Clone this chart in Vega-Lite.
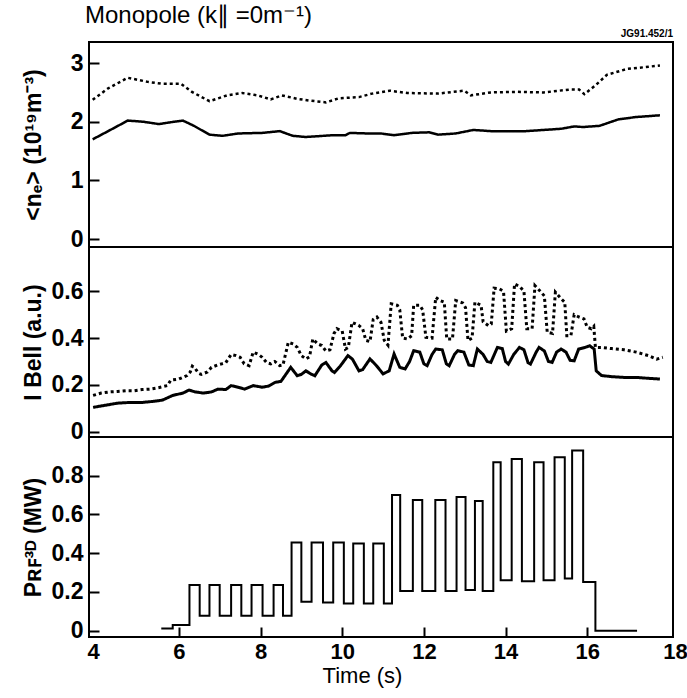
{
  "$schema": "https://vega.github.io/schema/vega-lite/v6.json",
  "padding": {"left": 20, "top": 4, "right": 12, "bottom": 4},
  "spacing": 0,
  "bounds": "flush",
  "title": {"text": "Monopole (k∥ =0m⁻¹)", "anchor": "start", "fontSize": 24, "fontWeight": "normal", "font": "Liberation Sans", "color": "black", "offset": 0, "dx": 64},
  "config": {
    "font": "Liberation Sans",
    "view": {"stroke": "black", "strokeWidth": 2},
    "axis": {"grid": false, "domain": false, "tickColor": "black", "tickWidth": 2, "tickSize": -10, "labelColor": "black", "labelFontSize": 23, "labelFontWeight": "bold", "titleColor": "black", "titleFontSize": 23, "titleFontWeight": "bold", "labelFont": "Liberation Sans", "titleFont": "Liberation Sans"},
    "line": {"color": "black"}
  },
  "datasets": {
    "dens": [
      {"t": 3.89, "v": 2.375, "s": "u"}, {"t": 4.27, "v": 2.57, "s": "u"}, {"t": 4.75, "v": 2.75, "s": "u"}, {"t": 5.24, "v": 2.68, "s": "u"}, {"t": 5.56, "v": 2.65, "s": "u"}, {"t": 6.05, "v": 2.65, "s": "u"}, {"t": 6.32, "v": 2.51, "s": "u"}, {"t": 6.75, "v": 2.35, "s": "u"}, {"t": 7.18, "v": 2.45, "s": "u"}, {"t": 7.55, "v": 2.49, "s": "u"}, {"t": 7.93, "v": 2.45, "s": "u"}, {"t": 8.25, "v": 2.38, "s": "u"}, {"t": 8.52, "v": 2.45, "s": "u"}, {"t": 8.9, "v": 2.39, "s": "u"}, {"t": 9.22, "v": 2.36, "s": "u"}, {"t": 9.6, "v": 2.33, "s": "u"}, {"t": 9.92, "v": 2.4, "s": "u"}, {"t": 10.41, "v": 2.42, "s": "u"}, {"t": 10.73, "v": 2.48, "s": "u"}, {"t": 11.16, "v": 2.53, "s": "u"}, {"t": 11.59, "v": 2.49, "s": "u"}, {"t": 12.35, "v": 2.48, "s": "u"}, {"t": 12.99, "v": 2.53, "s": "u"}, {"t": 13.15, "v": 2.45, "s": "u"}, {"t": 13.64, "v": 2.5, "s": "u"}, {"t": 14.28, "v": 2.51, "s": "u"}, {"t": 14.93, "v": 2.5, "s": "u"}, {"t": 15.58, "v": 2.55, "s": "u"}, {"t": 15.8, "v": 2.55, "s": "u"}, {"t": 15.93, "v": 2.47, "s": "u"}, {"t": 16.2, "v": 2.62, "s": "u"}, {"t": 16.48, "v": 2.8, "s": "u"}, {"t": 16.97, "v": 2.9, "s": "u"}, {"t": 17.4, "v": 2.93, "s": "u"}, {"t": 17.78, "v": 2.96, "s": "u"},
      {"t": 3.89, "v": 1.7, "s": "l"}, {"t": 4.27, "v": 1.84, "s": "l"}, {"t": 4.75, "v": 2.02, "s": "l"}, {"t": 5.13, "v": 2.0, "s": "l"}, {"t": 5.51, "v": 1.96, "s": "l"}, {"t": 5.88, "v": 2.0, "s": "l"}, {"t": 6.1, "v": 2.02, "s": "l"}, {"t": 6.37, "v": 1.93, "s": "l"}, {"t": 6.75, "v": 1.78, "s": "l"}, {"t": 7.07, "v": 1.76, "s": "l"}, {"t": 7.45, "v": 1.8, "s": "l"}, {"t": 8.04, "v": 1.81, "s": "l"}, {"t": 8.47, "v": 1.84, "s": "l"}, {"t": 8.79, "v": 1.76, "s": "l"}, {"t": 9.11, "v": 1.74, "s": "l"}, {"t": 9.76, "v": 1.77, "s": "l"}, {"t": 10.08, "v": 1.77, "s": "l"}, {"t": 10.19, "v": 1.81, "s": "l"}, {"t": 10.62, "v": 1.8, "s": "l"}, {"t": 10.95, "v": 1.8, "s": "l"}, {"t": 11.27, "v": 1.77, "s": "l"}, {"t": 11.7, "v": 1.81, "s": "l"}, {"t": 12.13, "v": 1.82, "s": "l"}, {"t": 12.35, "v": 1.78, "s": "l"}, {"t": 12.78, "v": 1.8, "s": "l"}, {"t": 13.21, "v": 1.86, "s": "l"}, {"t": 13.64, "v": 1.84, "s": "l"}, {"t": 14.5, "v": 1.84, "s": "l"}, {"t": 14.93, "v": 1.86, "s": "l"}, {"t": 15.36, "v": 1.88, "s": "l"}, {"t": 15.68, "v": 1.92, "s": "l"}, {"t": 15.9, "v": 1.91, "s": "l"}, {"t": 16.3, "v": 1.93, "s": "l"}, {"t": 16.76, "v": 2.04, "s": "l"}, {"t": 17.19, "v": 2.08, "s": "l"}, {"t": 17.78, "v": 2.11, "s": "l"}
    ],
    "bell": [
      {"t": 3.9, "v": 0.155, "s": "u"}, {"t": 4.1, "v": 0.165, "s": "u"}, {"t": 4.3, "v": 0.17, "s": "u"}, {"t": 4.5, "v": 0.172, "s": "u"}, {"t": 4.7, "v": 0.175, "s": "u"}, {"t": 4.9, "v": 0.175, "s": "u"}, {"t": 5.1, "v": 0.18, "s": "u"}, {"t": 5.3, "v": 0.182, "s": "u"}, {"t": 5.5, "v": 0.188, "s": "u"}, {"t": 5.72, "v": 0.197, "s": "u"}, {"t": 5.8, "v": 0.22, "s": "u"}, {"t": 6.0, "v": 0.225, "s": "u"}, {"t": 6.2, "v": 0.24, "s": "u"}, {"t": 6.28, "v": 0.255, "s": "u"}, {"t": 6.33, "v": 0.28, "s": "u"}, {"t": 6.4, "v": 0.27, "s": "u"}, {"t": 6.48, "v": 0.25, "s": "u"}, {"t": 6.55, "v": 0.245, "s": "u"}, {"t": 6.7, "v": 0.255, "s": "u"}, {"t": 6.8, "v": 0.275, "s": "u"}, {"t": 6.95, "v": 0.285, "s": "u"}, {"t": 7.05, "v": 0.29, "s": "u"}, {"t": 7.15, "v": 0.295, "s": "u"}, {"t": 7.28, "v": 0.33, "s": "u"}, {"t": 7.4, "v": 0.325, "s": "u"}, {"t": 7.5, "v": 0.318, "s": "u"}, {"t": 7.6, "v": 0.29, "s": "u"}, {"t": 7.72, "v": 0.282, "s": "u"}, {"t": 7.82, "v": 0.34, "s": "u"}, {"t": 7.95, "v": 0.33, "s": "u"}, {"t": 8.04, "v": 0.318, "s": "u"}, {"t": 8.15, "v": 0.295, "s": "u"}, {"t": 8.25, "v": 0.29, "s": "u"}, {"t": 8.35, "v": 0.3, "s": "u"}, {"t": 8.47, "v": 0.282, "s": "u"}, {"t": 8.55, "v": 0.285, "s": "u"}, {"t": 8.68, "v": 0.382, "s": "u"}, {"t": 8.8, "v": 0.375, "s": "u"}, {"t": 8.9, "v": 0.36, "s": "u"}, {"t": 9.0, "v": 0.325, "s": "u"}, {"t": 9.11, "v": 0.311, "s": "u"}, {"t": 9.2, "v": 0.32, "s": "u"}, {"t": 9.28, "v": 0.396, "s": "u"}, {"t": 9.4, "v": 0.375, "s": "u"}, {"t": 9.5, "v": 0.368, "s": "u"}, {"t": 9.6, "v": 0.345, "s": "u"}, {"t": 9.7, "v": 0.35, "s": "u"}, {"t": 9.8, "v": 0.42, "s": "u"}, {"t": 9.87, "v": 0.44, "s": "u"}, {"t": 10.0, "v": 0.43, "s": "u"}, {"t": 10.08, "v": 0.353, "s": "u"}, {"t": 10.15, "v": 0.36, "s": "u"}, {"t": 10.24, "v": 0.467, "s": "u"}, {"t": 10.4, "v": 0.455, "s": "u"}, {"t": 10.5, "v": 0.44, "s": "u"}, {"t": 10.58, "v": 0.39, "s": "u"}, {"t": 10.68, "v": 0.385, "s": "u"}, {"t": 10.76, "v": 0.48, "s": "u"}, {"t": 10.85, "v": 0.49, "s": "u"}, {"t": 10.95, "v": 0.467, "s": "u"}, {"t": 11.03, "v": 0.39, "s": "u"}, {"t": 11.12, "v": 0.37, "s": "u"}, {"t": 11.2, "v": 0.546, "s": "u"}, {"t": 11.35, "v": 0.54, "s": "u"}, {"t": 11.41, "v": 0.52, "s": "u"}, {"t": 11.48, "v": 0.4, "s": "u"}, {"t": 11.6, "v": 0.396, "s": "u"}, {"t": 11.7, "v": 0.41, "s": "u"}, {"t": 11.75, "v": 0.54, "s": "u"}, {"t": 11.9, "v": 0.54, "s": "u"}, {"t": 11.97, "v": 0.52, "s": "u"}, {"t": 12.05, "v": 0.403, "s": "u"}, {"t": 12.2, "v": 0.4, "s": "u"}, {"t": 12.29, "v": 0.574, "s": "u"}, {"t": 12.4, "v": 0.56, "s": "u"}, {"t": 12.5, "v": 0.553, "s": "u"}, {"t": 12.56, "v": 0.396, "s": "u"}, {"t": 12.7, "v": 0.396, "s": "u"}, {"t": 12.78, "v": 0.56, "s": "u"}, {"t": 12.95, "v": 0.55, "s": "u"}, {"t": 13.02, "v": 0.53, "s": "u"}, {"t": 13.08, "v": 0.39, "s": "u"}, {"t": 13.18, "v": 0.4, "s": "u"}, {"t": 13.25, "v": 0.553, "s": "u"}, {"t": 13.4, "v": 0.54, "s": "u"}, {"t": 13.45, "v": 0.47, "s": "u"}, {"t": 13.58, "v": 0.453, "s": "u"}, {"t": 13.65, "v": 0.46, "s": "u"}, {"t": 13.72, "v": 0.613, "s": "u"}, {"t": 13.85, "v": 0.61, "s": "u"}, {"t": 13.95, "v": 0.6, "s": "u"}, {"t": 14.02, "v": 0.43, "s": "u"}, {"t": 14.15, "v": 0.44, "s": "u"}, {"t": 14.22, "v": 0.631, "s": "u"}, {"t": 14.35, "v": 0.62, "s": "u"}, {"t": 14.45, "v": 0.6, "s": "u"}, {"t": 14.52, "v": 0.44, "s": "u"}, {"t": 14.65, "v": 0.44, "s": "u"}, {"t": 14.72, "v": 0.624, "s": "u"}, {"t": 14.85, "v": 0.6, "s": "u"}, {"t": 14.95, "v": 0.58, "s": "u"}, {"t": 15.02, "v": 0.425, "s": "u"}, {"t": 15.15, "v": 0.42, "s": "u"}, {"t": 15.22, "v": 0.596, "s": "u"}, {"t": 15.35, "v": 0.57, "s": "u"}, {"t": 15.45, "v": 0.553, "s": "u"}, {"t": 15.5, "v": 0.41, "s": "u"}, {"t": 15.6, "v": 0.41, "s": "u"}, {"t": 15.68, "v": 0.5, "s": "u"}, {"t": 15.8, "v": 0.49, "s": "u"}, {"t": 15.92, "v": 0.482, "s": "u"}, {"t": 16.0, "v": 0.446, "s": "u"}, {"t": 16.1, "v": 0.44, "s": "u"}, {"t": 16.16, "v": 0.45, "s": "u"}, {"t": 16.2, "v": 0.36, "s": "u"}, {"t": 16.35, "v": 0.36, "s": "u"}, {"t": 16.6, "v": 0.355, "s": "u"}, {"t": 16.9, "v": 0.35, "s": "u"}, {"t": 17.2, "v": 0.34, "s": "u"}, {"t": 17.5, "v": 0.325, "s": "u"}, {"t": 17.7, "v": 0.31, "s": "u"}, {"t": 17.85, "v": 0.318, "s": "u"},
      {"t": 3.9, "v": 0.104, "s": "l"}, {"t": 4.2, "v": 0.113, "s": "l"}, {"t": 4.5, "v": 0.122, "s": "l"}, {"t": 4.8, "v": 0.125, "s": "l"}, {"t": 5.1, "v": 0.125, "s": "l"}, {"t": 5.4, "v": 0.13, "s": "l"}, {"t": 5.6, "v": 0.135, "s": "l"}, {"t": 5.85, "v": 0.155, "s": "l"}, {"t": 6.1, "v": 0.165, "s": "l"}, {"t": 6.25, "v": 0.178, "s": "l"}, {"t": 6.4, "v": 0.17, "s": "l"}, {"t": 6.6, "v": 0.165, "s": "l"}, {"t": 6.8, "v": 0.17, "s": "l"}, {"t": 6.96, "v": 0.182, "s": "l"}, {"t": 7.15, "v": 0.18, "s": "l"}, {"t": 7.28, "v": 0.197, "s": "l"}, {"t": 7.45, "v": 0.19, "s": "l"}, {"t": 7.61, "v": 0.182, "s": "l"}, {"t": 7.82, "v": 0.197, "s": "l"}, {"t": 8.04, "v": 0.19, "s": "l"}, {"t": 8.2, "v": 0.195, "s": "l"}, {"t": 8.36, "v": 0.211, "s": "l"}, {"t": 8.5, "v": 0.215, "s": "l"}, {"t": 8.6, "v": 0.24, "s": "l"}, {"t": 8.74, "v": 0.275, "s": "l"}, {"t": 8.9, "v": 0.239, "s": "l"}, {"t": 9.0, "v": 0.245, "s": "l"}, {"t": 9.11, "v": 0.26, "s": "l"}, {"t": 9.25, "v": 0.245, "s": "l"}, {"t": 9.33, "v": 0.239, "s": "l"}, {"t": 9.5, "v": 0.285, "s": "l"}, {"t": 9.6, "v": 0.296, "s": "l"}, {"t": 9.75, "v": 0.26, "s": "l"}, {"t": 9.81, "v": 0.253, "s": "l"}, {"t": 9.95, "v": 0.28, "s": "l"}, {"t": 10.14, "v": 0.325, "s": "l"}, {"t": 10.25, "v": 0.31, "s": "l"}, {"t": 10.41, "v": 0.26, "s": "l"}, {"t": 10.5, "v": 0.265, "s": "l"}, {"t": 10.68, "v": 0.311, "s": "l"}, {"t": 10.84, "v": 0.282, "s": "l"}, {"t": 11.0, "v": 0.247, "s": "l"}, {"t": 11.15, "v": 0.26, "s": "l"}, {"t": 11.27, "v": 0.332, "s": "l"}, {"t": 11.41, "v": 0.275, "s": "l"}, {"t": 11.54, "v": 0.268, "s": "l"}, {"t": 11.65, "v": 0.3, "s": "l"}, {"t": 11.75, "v": 0.346, "s": "l"}, {"t": 11.9, "v": 0.34, "s": "l"}, {"t": 12.0, "v": 0.29, "s": "l"}, {"t": 12.08, "v": 0.282, "s": "l"}, {"t": 12.2, "v": 0.33, "s": "l"}, {"t": 12.29, "v": 0.353, "s": "l"}, {"t": 12.45, "v": 0.35, "s": "l"}, {"t": 12.55, "v": 0.29, "s": "l"}, {"t": 12.62, "v": 0.282, "s": "l"}, {"t": 12.75, "v": 0.33, "s": "l"}, {"t": 12.83, "v": 0.346, "s": "l"}, {"t": 12.98, "v": 0.34, "s": "l"}, {"t": 13.1, "v": 0.285, "s": "l"}, {"t": 13.21, "v": 0.282, "s": "l"}, {"t": 13.31, "v": 0.353, "s": "l"}, {"t": 13.45, "v": 0.33, "s": "l"}, {"t": 13.55, "v": 0.3, "s": "l"}, {"t": 13.64, "v": 0.296, "s": "l"}, {"t": 13.8, "v": 0.36, "s": "l"}, {"t": 13.92, "v": 0.355, "s": "l"}, {"t": 14.0, "v": 0.3, "s": "l"}, {"t": 14.07, "v": 0.289, "s": "l"}, {"t": 14.2, "v": 0.33, "s": "l"}, {"t": 14.34, "v": 0.36, "s": "l"}, {"t": 14.45, "v": 0.35, "s": "l"}, {"t": 14.55, "v": 0.295, "s": "l"}, {"t": 14.61, "v": 0.289, "s": "l"}, {"t": 14.75, "v": 0.34, "s": "l"}, {"t": 14.82, "v": 0.36, "s": "l"}, {"t": 14.95, "v": 0.345, "s": "l"}, {"t": 15.05, "v": 0.3, "s": "l"}, {"t": 15.14, "v": 0.296, "s": "l"}, {"t": 15.25, "v": 0.34, "s": "l"}, {"t": 15.36, "v": 0.353, "s": "l"}, {"t": 15.48, "v": 0.34, "s": "l"}, {"t": 15.58, "v": 0.305, "s": "l"}, {"t": 15.68, "v": 0.303, "s": "l"}, {"t": 15.79, "v": 0.353, "s": "l"}, {"t": 15.95, "v": 0.36, "s": "l"}, {"t": 16.06, "v": 0.367, "s": "l"}, {"t": 16.17, "v": 0.353, "s": "l"}, {"t": 16.22, "v": 0.26, "s": "l"}, {"t": 16.35, "v": 0.24, "s": "l"}, {"t": 16.6, "v": 0.235, "s": "l"}, {"t": 16.9, "v": 0.232, "s": "l"}, {"t": 17.2, "v": 0.232, "s": "l"}, {"t": 17.5, "v": 0.228, "s": "l"}, {"t": 17.78, "v": 0.225, "s": "l"}
    ],
    "rf": [
      {"t": 5.57, "v": 0.012}, {"t": 5.85, "v": 0.03}, {"t": 6.26, "v": 0.236}, {"t": 6.51, "v": 0.077}, {"t": 6.75, "v": 0.236}, {"t": 7.0, "v": 0.077}, {"t": 7.28, "v": 0.236}, {"t": 7.53, "v": 0.077}, {"t": 7.78, "v": 0.236}, {"t": 8.05, "v": 0.077}, {"t": 8.32, "v": 0.236}, {"t": 8.55, "v": 0.077},
      {"t": 8.76, "v": 0.456}, {"t": 9.0, "v": 0.15}, {"t": 9.25, "v": 0.456}, {"t": 9.53, "v": 0.145}, {"t": 9.78, "v": 0.456}, {"t": 10.04, "v": 0.14}, {"t": 10.27, "v": 0.45}, {"t": 10.53, "v": 0.14}, {"t": 10.76, "v": 0.45}, {"t": 11.02, "v": 0.14},
      {"t": 11.22, "v": 0.7}, {"t": 11.42, "v": 0.205}, {"t": 11.73, "v": 0.675}, {"t": 11.96, "v": 0.205}, {"t": 12.28, "v": 0.675}, {"t": 12.53, "v": 0.205}, {"t": 12.8, "v": 0.69}, {"t": 13.02, "v": 0.21}, {"t": 13.25, "v": 0.67}, {"t": 13.44, "v": 0.205},
      {"t": 13.7, "v": 0.87}, {"t": 13.88, "v": 0.26}, {"t": 14.15, "v": 0.887}, {"t": 14.4, "v": 0.255}, {"t": 14.7, "v": 0.87}, {"t": 14.93, "v": 0.26}, {"t": 15.2, "v": 0.895}, {"t": 15.45, "v": 0.27}, {"t": 15.63, "v": 0.93}, {"t": 15.9, "v": 0.252}, {"t": 16.2, "v": 0.0}, {"t": 17.22, "v": 0.0}
    ]
  },
  "vconcat": [
    {
      "width": 584, "height": 205,
      "title": {"text": "JG91.452/1", "anchor": "end", "fontSize": 10, "fontWeight": "bold", "color": "black", "offset": 3},
      "data": {"name": "dens"},
      "mark": {"type": "line", "strokeWidth": 2.5, "color": "black"},
      "encoding": {
        "x": {"field": "t", "type": "quantitative", "scale": {"domain": [3.8, 18.1], "nice": false, "zero": false}, "axis": null},
        "y": {"field": "v", "type": "quantitative", "scale": {"domain": [-0.136, 3.36], "nice": false, "zero": false}, "axis": {"values": [0, 1, 2, 3], "format": "~g", "labelPadding": 16, "title": "<nₑ> (10¹⁹m⁻³)", "titleX": -56, "titleBaseline": "middle"}},
        "strokeDash": {"field": "s", "type": "nominal", "scale": {"domain": ["u", "l"], "range": [[3, 3], [1, 0]]}, "legend": null}
      }
    },
    {
      "width": 584, "height": 190,
      "data": {"name": "bell"},
      "mark": {"type": "line", "strokeWidth": 3, "color": "black"},
      "encoding": {
        "x": {"field": "t", "type": "quantitative", "scale": {"domain": [3.8, 18.1], "nice": false, "zero": false}, "axis": null},
        "y": {"field": "v", "type": "quantitative", "scale": {"domain": [-0.0226, 0.789], "nice": false, "zero": false}, "axis": {"values": [0, 0.2, 0.4, 0.6], "format": "~g", "labelPadding": 16, "title": "I Bell (a.u.)", "titleX": -56, "titleBaseline": "middle"}},
        "strokeDash": {"field": "s", "type": "nominal", "scale": {"domain": ["u", "l"], "range": [[5, 2], [1, 0]]}, "legend": null}
      }
    },
    {
      "width": 584, "height": 200,
      "data": {"name": "rf"},
      "mark": {"type": "line", "strokeWidth": 2, "color": "black", "interpolate": "step-after"},
      "encoding": {
        "x": {"field": "t", "type": "quantitative", "scale": {"domain": [3.8, 18.1], "nice": false, "zero": false}, "axis": {"values": [4, 6, 8, 10, 12, 14, 16, 18], "labelPadding": 14, "labelFontSize": 22, "labelOffset": {"condition": [{"test": "datum.value == 4", "value": -4}, {"test": "datum.value == 18", "value": 6}], "value": 0}, "tickOpacity": {"condition": {"test": "datum.value == 4 || datum.value == 18", "value": 0}, "value": 1}, "title": "Time (s)", "titleX": 273, "titleY": 38, "titleBaseline": "middle", "titleFontSize": 22, "titleFontWeight": "normal"}},
        "y": {"field": "v", "type": "quantitative", "scale": {"domain": [-0.0325, 1.0], "nice": false, "zero": false}, "axis": {"values": [0, 0.2, 0.4, 0.6, 0.8], "format": "~g", "labelPadding": 16, "title": "Pʀꜰ³ᴰ (MW)", "titleX": -56, "titleBaseline": "middle"}}
      }
    }
  ]
}
